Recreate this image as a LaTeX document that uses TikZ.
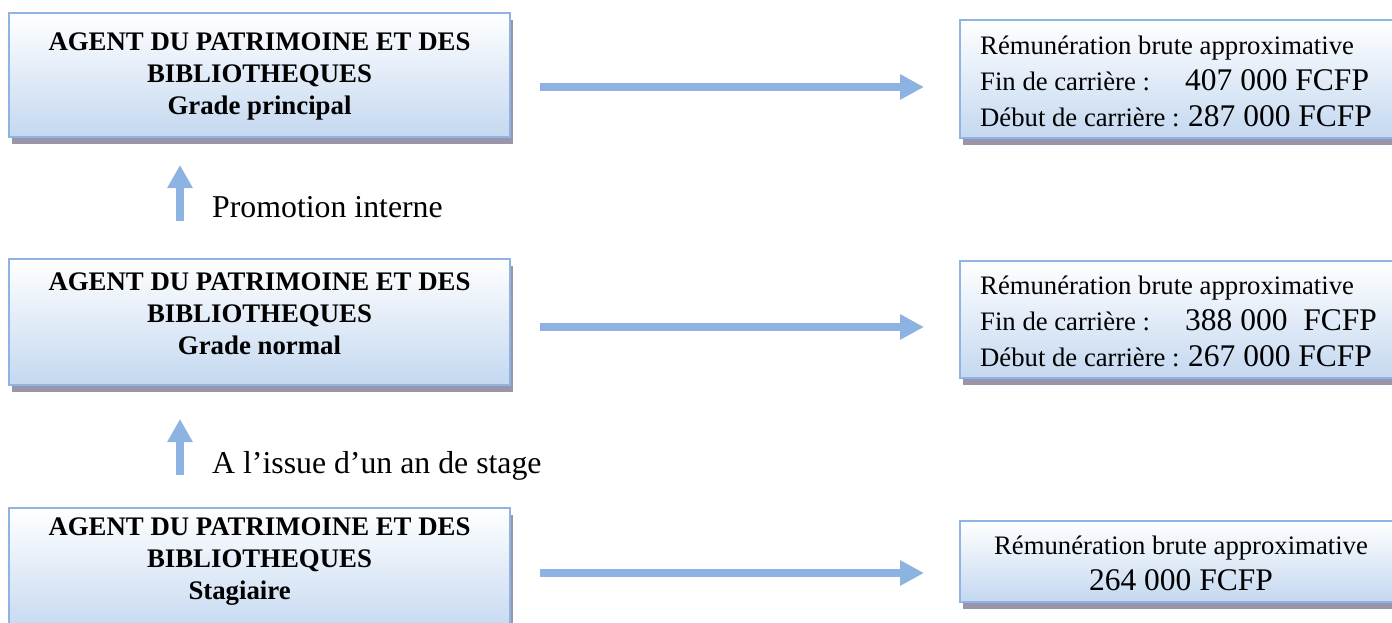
\documentclass[tikz,border=0pt]{standalone}
\usepackage{fontspec}
\setmainfont{Liberation Serif}
\usetikzlibrary{arrows.meta,shadows}
\definecolor{bordercol}{HTML}{8EB4E3}
\definecolor{boxbottom}{HTML}{C4D8F0}
\definecolor{boxtop}{HTML}{FFFFFF}
\definecolor{arrowcol}{HTML}{8DB3E2}
\definecolor{shadowcol}{HTML}{9A95AA}
\newcommand\bignum{\fontsize{31.5}{36}\selectfont}
\tikzset{
  gradbox/.style={rectangle, draw=bordercol, line width=2pt, top color=boxtop, bottom color=boxbottom,
    inner sep=0pt, minimum width=#1,
    drop shadow={shadow xshift=3pt, shadow yshift=-7pt, fill=shadowcol, opacity=1}},
  lefttext/.style={anchor=north, align=center, inner sep=0pt, font=\bfseries\fontsize{26.8}{32}\selectfont},
  righttext/.style={anchor=north west, align=left, inner sep=0pt, font=\fontsize{26.7}{36}\selectfont},
  bigarrow/.style={draw=arrowcol, line width=8pt, -{Triangle[width=24pt,length=24pt]}},
  uparrow/.style={draw=arrowcol, line width=8pt, -{Triangle[width=24pt,length=23pt]}},
  label/.style={anchor=base west, inner sep=0pt, font=\fontsize{31.8}{38}\selectfont}
}
\begin{document}
\begin{tikzpicture}[x=1pt,y=-1pt]
\clip (0,0) rectangle (1392,623);
\fill[white] (0,0) rectangle (1392,623);
% left boxes
\node[gradbox=501pt, minimum height=124pt] (lb1) at (259.5,75) {};
\node[gradbox=501pt, minimum height=126pt] (lb2) at (259.5,322) {};
\node[gradbox=501pt, minimum height=126pt] (lb3) at (259.5,571) {};
% right boxes
\node[gradbox=445pt, minimum height=118pt] (rb1) at (1182.5,79) {};
\node[gradbox=445pt, minimum height=117pt] (rb2) at (1182.5,319.5) {};
\node[gradbox=445pt, minimum height=81pt] (rb3) at (1182.5,561.5) {};
% left texts
\node[lefttext] (lt1) at (259.5,32.4) {AGENT DU PATRIMOINE ET DES\\BIBLIOTHEQUES\\Grade principal};
\node[lefttext] (lt2) at (259.5,272.4) {AGENT DU PATRIMOINE ET DES\\BIBLIOTHEQUES\\Grade normal};
\node[lefttext] (lt3) at (259.5,517.4) {AGENT DU PATRIMOINE ET DES\\BIBLIOTHEQUES\\\makebox[142pt][l]{Stagiaire}};
% right texts
\node[righttext] (rt1) at (980,36) {Rémunération brute approximative\\
  \makebox[205pt][l]{Fin de carrière :}{\bignum 407 000 FCFP}\\
  \makebox[208pt][l]{Début de carrière :}{\bignum 287 000 FCFP}};
\node[righttext] (rt2) at (980,276) {Rémunération brute approximative\\
  \makebox[205pt][l]{Fin de carrière :}{\bignum 388 000\ \ FCFP}\\
  \makebox[208pt][l]{Début de carrière :}{\bignum 267 000 FCFP}};
\node[righttext, anchor=north, align=center] (rt3) at (1181,536) {Rémunération brute approximative\\
  {\bignum 264 000 FCFP}};
% horizontal arrows
\coordinate (h1s) at (540,87); \coordinate (h1e) at (924,87);
\coordinate (h2s) at (540,327); \coordinate (h2e) at (924,327);
\coordinate (h3s) at (540,573); \coordinate (h3e) at (924,573);
\draw[bigarrow] (h1s) -- (h1e);
\draw[bigarrow] (h2s) -- (h2e);
\draw[bigarrow] (h3s) -- (h3e);
% vertical arrows
\coordinate (v1s) at (180,221); \coordinate (v1e) at (180,165);
\coordinate (v2s) at (180,475); \coordinate (v2e) at (180,419);
\draw[uparrow] (v1s) -- (v1e);
\draw[uparrow] (v2s) -- (v2e);
\node[label] (l1) at (212,217) {Promotion interne};
\node[label] (l2) at (212,473) {A l’issue d’un an de stage};
\end{tikzpicture}
\end{document}
